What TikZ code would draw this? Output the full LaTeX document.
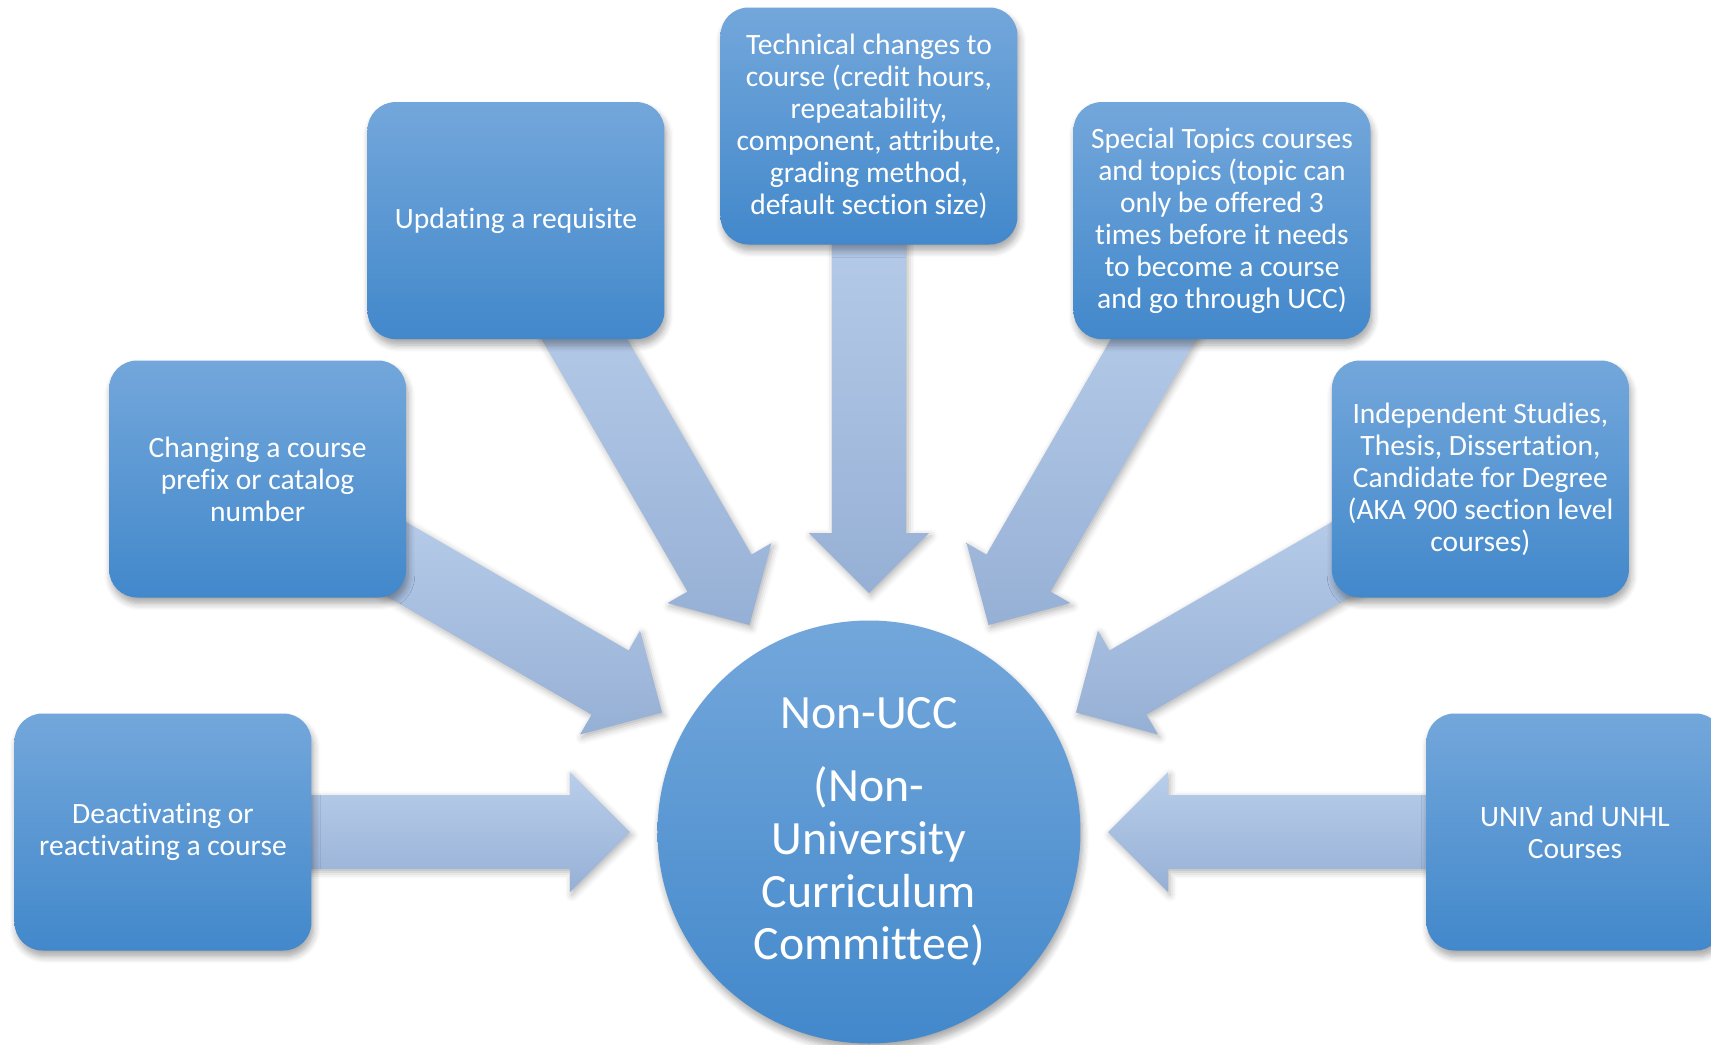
\documentclass[tikz,border=0pt]{standalone}
\usepackage{fontspec}
\setmainfont{Carlito}[RawFeature=-liga,RawFeature=-clig,RawFeature=-calt,RawFeature=-dlig]
\usetikzlibrary{calc,shadows,shadows.blur}
\definecolor{boxtop}{RGB}{115,167,219}
\definecolor{boxmid}{RGB}{88,154,216}
\definecolor{boxbot}{RGB}{66,136,203}
\definecolor{flowtop}{RGB}{185,206,235}
\definecolor{flowbot}{RGB}{150,176,213}
\pgfdeclarelayer{background}
\pgfsetlayers{background,main}
\tikzset{
  topicbox/.style={rectangle, rounded corners=0.28cm, minimum width=2.97cm,
    minimum height=2.37cm, inner sep=0pt, align=center, text=white,
    top color=boxtop, middle color=boxmid, bottom color=boxbot,
    blur shadow={shadow xshift=0.02cm, shadow yshift=-0.06cm, shadow opacity=35, shadow blur steps=6},
    font=\fontsize{8.4}{9.1}\selectfont},
  hubdisc/.style={circle, minimum size=4.23cm, inner sep=0pt, align=center, text=white,
    top color=boxtop, middle color=boxmid, bottom color=boxbot,
    blur shadow={shadow xshift=0.02cm, shadow yshift=-0.06cm, shadow opacity=35, shadow blur steps=6},
    font=\fontsize{13.6}{15.0}\selectfont},
  flow/.style={top color=flowtop, bottom color=flowbot,
    blur shadow={shadow xshift=0.02cm, shadow yshift=-0.03cm, shadow opacity=30, shadow blur steps=4}}
}
\begin{document}
\begin{tikzpicture}
  \useasboundingbox (-8.69,-2.12) rectangle (8.42,8.32);

  % Drawing hub circle
  \node[hubdisc] (hub) at (0,0) {Non-UCC\\[5.8pt](Non-\\University\\Curriculum\\Committee)};

  % Drawing topic boxes
  \node[topicbox] (box1) at (180:7.06) {Deactivating or\\reactivating a course};
  \node[topicbox] (box2) at (150:7.06) {Changing a course\\prefix or catalog\\number};
  \node[topicbox] (box3) at (120:7.06) {Updating a requisite};
  \node[topicbox] (box4) at (90:7.06) {Technical changes to\\course (credit hours,\\repeatability,\\component, attribute,\\grading method,\\default section size)};
  \node[topicbox] (box5) at (60:7.06) {Special Topics courses\\and topics (topic can\\only be offered 3\\times before it needs\\to become a course\\and go through UCC)};
  \node[topicbox] (box6) at (30:7.06) {Independent Studies,\\Thesis, Dissertation,\\Candidate for Degree\\(AKA 900 section level\\courses)};
  \node[topicbox] (box7) at (0:7.06) {UNIV and UNHL\\Courses};

  % Drawing block arrows box -> hub
  \begin{pgfonlayer}{background}
    \foreach \a/\i in {180/1,150/2,120/3,90/4,60/5,30/6,0/7}{
      \pgfmathtruncatemacro\b{\a+180}
      \coordinate (tail) at ($(box\i.center)!0.5!(box\i.\b)$);
      \coordinate (tip) at ($(hub.center)!2.39cm!(box\i.center)$);
      \coordinate (base) at ($(hub.center)!2.99cm!(box\i.center)$);
      \path[flow] ($(tail)!0.37cm!90:(tip)$) -- ($(base)!0.37cm!90:(tip)$)
        -- ($(base)!0.6cm!90:(tip)$) -- (tip) -- ($(base)!0.6cm!-90:(tip)$)
        -- ($(base)!0.37cm!-90:(tip)$) -- ($(tail)!0.37cm!-90:(tip)$) -- cycle;
    }
  \end{pgfonlayer}
\end{tikzpicture}
\end{document}
